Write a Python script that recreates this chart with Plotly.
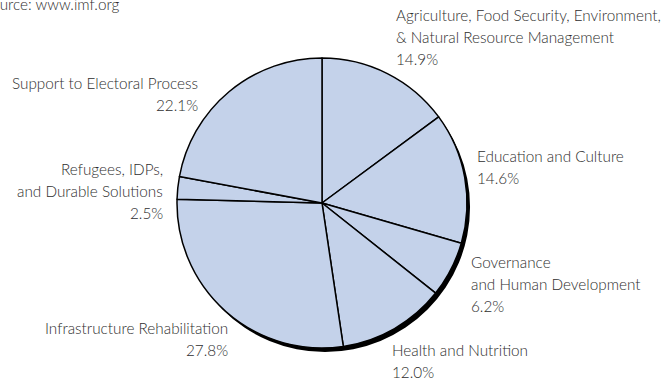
import plotly.graph_objects as go

# sectors in clockwise order from 12 o'clock
sectors = [
    "Agriculture, Food Security, Environment,<br>& Natural Resource Management",
    "Education and Culture",
    "Governance<br>and Human Development",
    "Health and Nutrition",
    "Infrastructure Rehabilitation",
    "Refugees, IDPs,<br>and Durable Solutions",
    "Support to Electoral Process",
]
shares = [14.9, 14.6, 6.2, 12.0, 27.8, 2.5, 22.1]
source_note = "Source: www.imf.org"

W, H = 667, 379
FILL = "#c4d2ea"
TEXT = "#2e2e2e"
FONT = "Lato"
FS = 15.3

# label anchor (pixel x, first-line pixel y, alignment)
label_pos = [
    (394, 15, "left"),
    (475, 156, "left"),
    (469, 262, "left"),
    (390, 350, "left"),
    (230, 328, "right"),
    (165, 169, "right"),
    (200, 83, "right"),
]
LINE_H = 22

cx, cy, r = 322, 203, 145


def px(x):
    return x / W


def py(y):
    return 1 - y / H


def dom(x0, y0, rad):
    return dict(x=[px(x0 - rad), px(x0 + rad)], y=[py(y0 + rad), py(y0 - rad)])


fig = go.Figure()
# drop shadow
fig.add_trace(go.Pie(
    values=[1],
    marker=dict(colors=["#000000"], line=dict(width=0)),
    textinfo="none", hoverinfo="skip", showlegend=False,
    domain=dom(cx + 3, cy + 4, r),
))
fig.add_trace(go.Pie(
    labels=[s.replace("<br>", " ") for s in sectors],
    values=shares,
    sort=False,
    direction="clockwise",
    rotation=0,
    marker=dict(colors=[FILL] * len(shares), line=dict(color="#000000", width=1.5)),
    textinfo="none",
    showlegend=False,
    domain=dom(cx, cy, r),
))

for name, val, (x0, y0, align) in zip(sectors, shares, label_pos):
    lines = name.split("<br>") + [f"{val:.1f}%"]
    for i, ln in enumerate(lines):
        fig.add_annotation(
            x=px(x0), y=py(y0 + i * LINE_H),
            xref="paper", yref="paper",
            text=ln, showarrow=False,
            xanchor=align, yanchor="middle",
            font=dict(family=FONT, size=FS, color=TEXT, weight=300),
        )

fig.add_annotation(
    x=px(122), y=py(4), xref="paper", yref="paper",
    text=source_note, showarrow=False, xanchor="right", yanchor="middle",
    font=dict(family=FONT, size=FS, color=TEXT, weight=300),
)

fig.update_layout(
    width=W, height=H,
    margin=dict(l=0, r=0, t=0, b=0),
    paper_bgcolor="#ffffff",
    plot_bgcolor="#ffffff",
)
fig.write_html(
    "out.html",
    config={"displayModeBar": False},
    post_script="document.body.style.margin='0';",
)
